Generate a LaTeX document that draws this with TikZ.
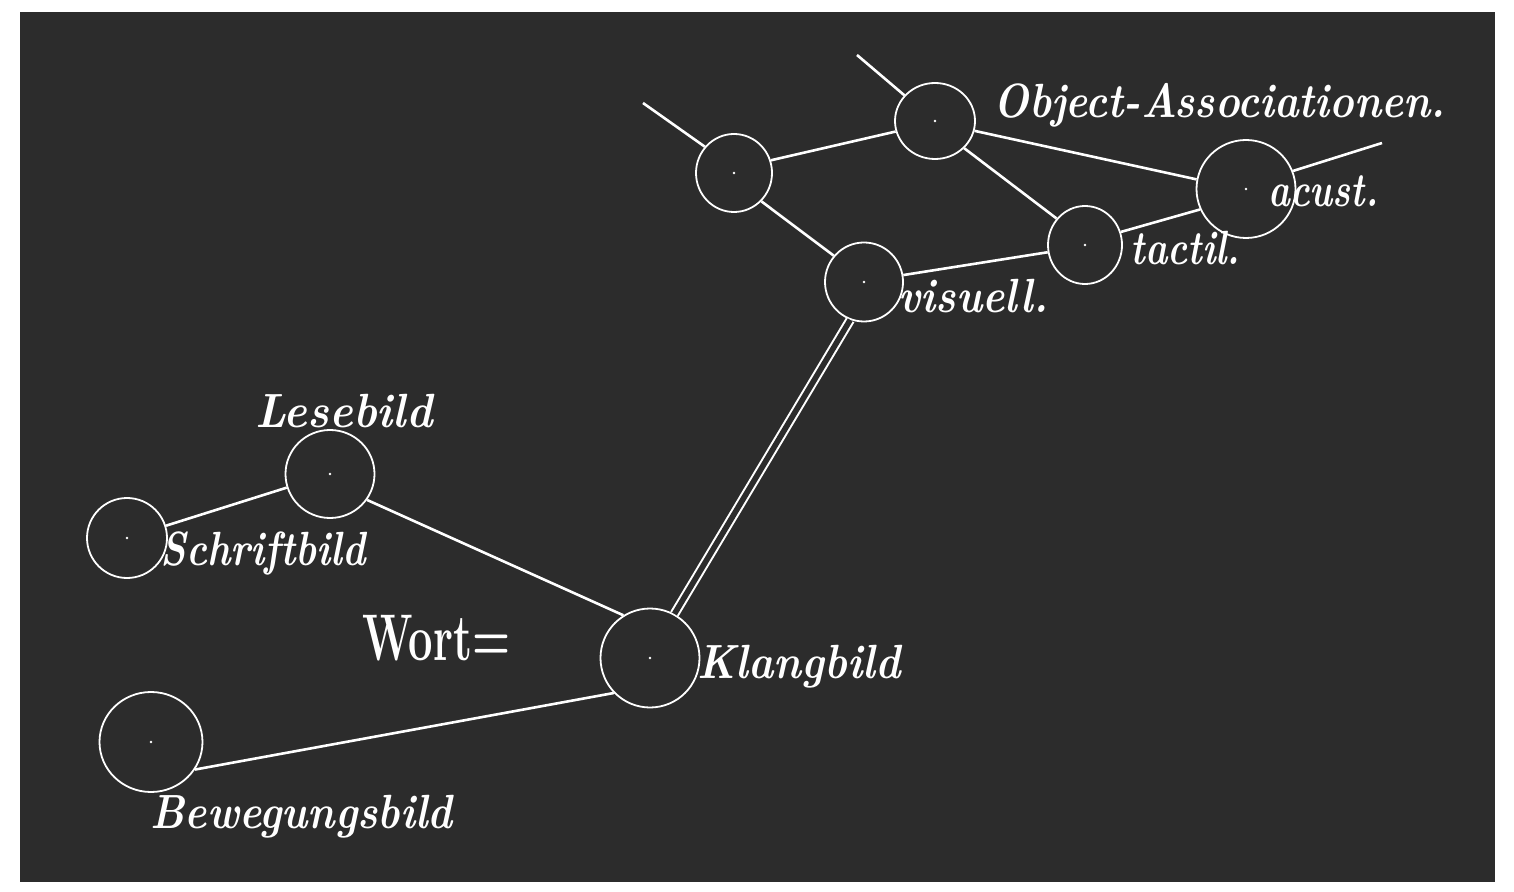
\documentclass[tikz,border=0pt]{standalone}
\usetikzlibrary{shapes.geometric}
\usepackage{graphicx}
\definecolor{bg}{RGB}{44,44,44}
\newlength\lblw
\newcommand\fitx[2]{\settowidth\lblw{#2}\pgfmathsetmacro\fitr{#1/\the\lblw}\scalebox{\fitr}[1]{#2}}
\begin{document}
\begin{tikzpicture}[x=0.5pt,y=-0.5pt,
 ring/.style={draw=white, line width=0.9pt, ellipse, inner sep=0pt},
 link/.style={draw=white, line width=1.3pt},
 dbl/.style={draw=white, line width=1pt, double=bg, double distance=2.8pt},
 lbl/.style={text=white, font=\fontsize{24}{26}\selectfont\bfseries\itshape, anchor=base west, inner sep=0pt},
 wort/.style={text=white, font=\fontsize{33}{35}\selectfont\bfseries, anchor=base west, inner sep=0pt},
 dot/.style={fill=white}]
\useasboundingbox (0,0) rectangle (1514,892);
\fill[white] (0,0) rectangle (1514,892);
\fill[bg] (20,12) rectangle (1495,882);

% circles
\node[ring, minimum width=38pt, minimum height=39pt] (c1) at (734,173) {};
\node[ring, minimum width=40pt, minimum height=38pt] (c2) at (935,121) {};
\node[ring, minimum width=39pt, minimum height=39.5pt] (vis) at (864,282) {};
\node[ring, minimum width=37pt, minimum height=39pt] (tac) at (1085,245) {};
\node[ring, minimum width=49.5pt, minimum height=49pt] (acu) at (1246,189) {};
\node[ring, minimum width=44.5pt, minimum height=44pt] (les) at (330,474) {};
\node[ring, minimum width=40pt, minimum height=40pt] (sch) at (127,538) {};
\node[ring, minimum width=49.5pt, minimum height=49.5pt] (kla) at (650,658) {};
\node[ring, minimum width=51.5pt, minimum height=50pt] (bew) at (151,742) {};

% centre dots
\foreach \n in {c1,c2,vis,tac,acu,les,sch,kla,bew}
  \fill[dot] (\n.center) circle (1.3);

% free ends
\coordinate (s1) at (643,103);
\coordinate (s2) at (857,55);
\coordinate (s3) at (1382,143);

% connectors
\draw[link] (c1.138) -- (s1);
\draw[link] (c2.140) -- (s2);
\draw[link] (acu.21) -- (s3);
\draw[link] (c1.19) -- (c2.195);
\draw[link] (c1.-46) -- (vis.139);
\draw[link] (c2.-14) -- (acu.169);
\draw[link] (c2.-43) -- (tac.137);
\draw[link] (vis.10) -- (tac.191);
\draw[link] (tac.20) -- (acu.204);
\draw[dbl] (vis.250) -- (kla.61);
\draw[link] (sch) -- (les);
\draw[link] (les.-35) -- (kla.122);
\draw[link] (bew.-32) -- (kla.224);

% labels
\node[lbl] (lobj) at (993,118) {\fitx{226}{Object-Associationen.}};
\node[lbl] (lacu) at (1268,207) {\fitx{55}{acust.}};
\node[lbl] (ltac) at (1130,265) {\fitx{55}{tactil.}};
\node[lbl] (lvis) at (898,313) {\fitx{75}{visuell.}};
\node[lbl] (lles) at (255,428) {\fitx{88.5}{Lesebild}};
\node[lbl] (lsch) at (160,565) {\fitx{102.5}{Schriftbild}};
\node[wort] (lwort) at (362,660) {\fitx{74}{Wort=}};
\node[lbl] (lkla) at (697,678) {\fitx{101.5}{Klangbild}};
\node[lbl] (lbew) at (150,828) {\fitx{151}{Bewegungsbild}};
\end{tikzpicture}
\end{document}
